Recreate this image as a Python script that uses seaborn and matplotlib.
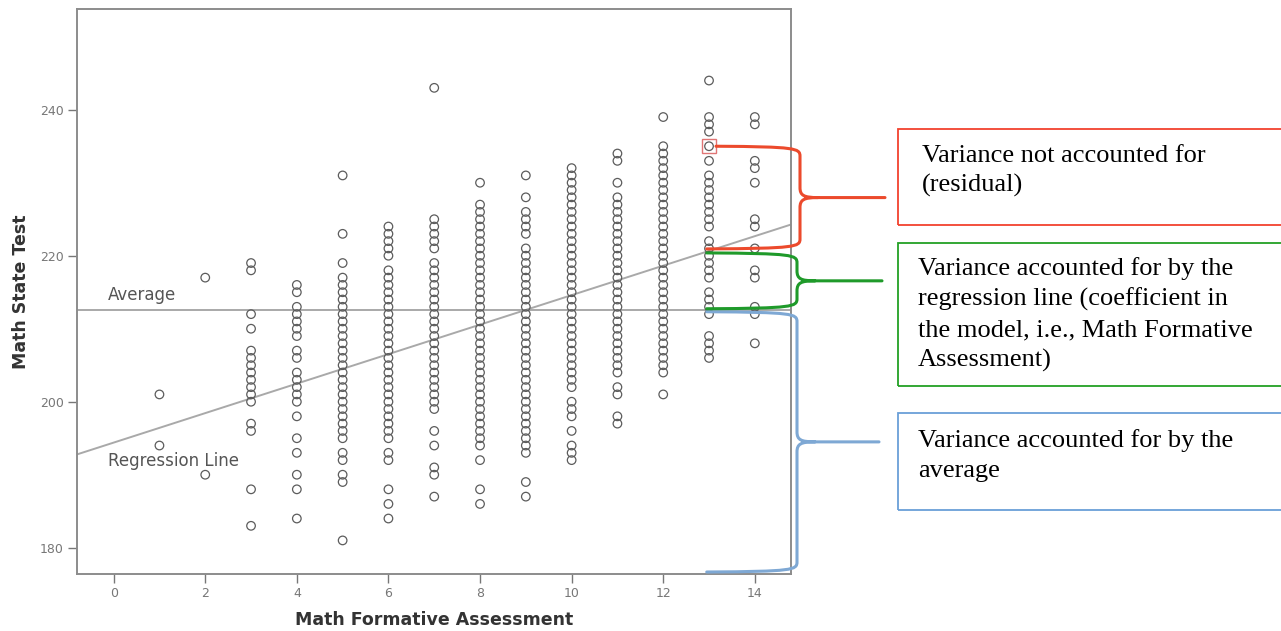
import numpy as np
import pandas as pd
import matplotlib
matplotlib.use("Agg")
import matplotlib.pyplot as plt
import seaborn as sns
from matplotlib.path import Path
from matplotlib.patches import PathPatch, Rectangle
from matplotlib.transforms import IdentityTransform

# ---------------- data ----------------
x_levels = [1, 2, 3, 4, 5, 6, 7, 8, 9, 10, 11, 12, 13, 14]
col_1 = [201, 194]
col_2 = [217, 190]
col_3 = [219, 218, 212, 210, 207, 206, 205, 204, 203, 202, 201, 200, 197, 196, 188, 183]
col_4 = [216, 215, 213, 212, 211, 210, 209, 207, 206, 204, 203, 202, 201, 200, 198,
         195, 193, 190, 188, 184]
col_5 = [231, 223, 219, 217, 216, 215, 214, 213, 212, 211, 210, 209, 208, 207, 206,
         205, 204, 203, 202, 201, 200, 199, 198, 197, 196, 195, 193, 192, 190, 189, 181]
col_6 = [224, 223, 222, 221, 220, 218, 217, 216, 215, 214, 213, 212, 211, 210, 209,
         208, 207, 206, 205, 204, 203, 202, 201, 200, 199, 198, 197, 196, 195, 193,
         192, 188, 186, 184]
col_7 = [243, 225, 224, 223, 222, 221, 219, 218, 217, 216, 215, 214, 213, 212, 211,
         210, 209, 208, 207, 206, 205, 204, 203, 202, 201, 200, 199, 196, 194, 191,
         190, 187]
col_8 = [230, 227, 226, 225, 224, 223, 222, 221, 220, 219, 218, 217, 216, 215, 214,
         213, 212, 211, 210, 209, 208, 207, 206, 205, 204, 203, 202, 201, 200, 199,
         198, 197, 196, 195, 194, 192, 188, 186]
col_9 = [231, 228, 226, 225, 224, 223, 221, 220, 219, 218, 217, 216, 215, 214, 213,
         212, 211, 210, 209, 208, 207, 206, 205, 204, 203, 202, 201, 200, 199, 198,
         197, 196, 195, 194, 193, 189, 187]
col_10 = [232, 231, 230, 229, 228, 227, 226, 225, 224, 223, 222, 221, 220, 219, 218,
          217, 216, 215, 214, 213, 212, 211, 210, 209, 208, 207, 206, 205, 204, 203,
          202, 200, 199, 198, 196, 194, 193, 192]
col_11 = [234, 233, 230, 228, 227, 226, 225, 224, 223, 222, 221, 220, 219, 218, 217,
          216, 215, 214, 213, 212, 211, 210, 209, 208, 207, 206, 205, 204, 202, 201,
          198, 197]
col_12 = [239, 235, 234, 233, 232, 231, 230, 229, 228, 227, 226, 225, 224, 223, 222,
          221, 220, 219, 218, 217, 216, 215, 214, 213, 212, 211, 210, 209, 208, 207,
          206, 205, 204, 201]
col_13 = [244, 239, 238, 237, 235, 233, 231, 230, 229, 228, 227, 226, 225, 224, 222,
          221, 220, 219, 218, 217, 215, 214, 213, 212, 209, 208, 207, 206]
col_14 = [239, 238, 233, 232, 230, 225, 224, 221, 218, 217, 213, 212, 208]
columns = [col_1, col_2, col_3, col_4, col_5, col_6, col_7, col_8, col_9, col_10,
           col_11, col_12, col_13, col_14]

average_value = 212.6
reg_intercept = 194.4
reg_slope = 2.02
highlight_point = (13, 235)

x_ticks = [0, 2, 4, 6, 8, 10, 12, 14]
y_ticks = [180, 200, 220, 240]
x_label = "Math Formative Assessment"
y_label = "Math State Test"
avg_label = "Average"
reg_label = "Regression Line"
box_texts = [
    ["Variance not accounted for", "(residual)"],
    ["Variance accounted for by the", "regression line (coefficient in",
     "the model, i.e., Math Formative", "Assessment)"],
    ["Variance accounted for by the", "average"],
]

# ---------------- figure ----------------
W, H = 1281, 631
sns.set_style("white")
fig = plt.figure(figsize=(W / 100, H / 100), dpi=100)
ax = fig.add_axes([77 / W, 1 - 574 / H, (791 - 77) / W, (574 - 9) / H])

df = pd.DataFrame({
    "x": np.concatenate([[xv] * len(c) for xv, c in zip(x_levels, columns)]),
    "y": np.concatenate(columns),
})

ax.set_xlim(-0.8, 14.79)
ax.set_ylim(176.4, 253.8)

# average & regression lines
ax.axhline(average_value, color="#a9a9a9", lw=1.4, zorder=1)
ax.axline((0, reg_intercept), slope=reg_slope, color="#a9a9a9", lw=1.4, zorder=1)

sns.scatterplot(data=df, x="x", y="y", ax=ax, marker="o", s=38,
                facecolors="none", edgecolor="#5c5c5c", linewidth=0.9, zorder=3,
                legend=False)

ax.set_xticks(x_ticks)
ax.set_yticks(y_ticks)
ax.tick_params(axis="both", direction="out", length=6.5, width=1.0, color="#777777",
               labelsize=9, labelcolor="#777777", pad=3, left=True, bottom=True)
for sp in ax.spines.values():
    sp.set_color("#8c8c8c")
    sp.set_linewidth(1.4)
ax.set_xlabel(x_label, fontsize=12.5, fontweight="bold", color="#333333", labelpad=8)
ax.set_ylabel(y_label, fontsize=12.5, fontweight="bold", color="#333333", labelpad=7)

ax.text(-0.12, 213.9, avg_label, fontsize=12, color="#555555", va="baseline")
ax.text(-0.12, 191.2, reg_label, fontsize=12, color="#555555", va="baseline")

# highlight square around one point
hp = ax.transData.transform(highlight_point)
fig.add_artist(Rectangle((hp[0] - 7, hp[1] - 7), 14, 14, transform=IdentityTransform(),
                         fill=False, edgecolor="#e07575", lw=1.0, zorder=5))

# ---------------- braces ----------------
def reg(xv):
    return reg_intercept + reg_slope * xv

right_px = ax.transAxes.transform((1, 0))[0]


def brace(x_top, y_top, x_bot, y_bot, xv, xt, color):
    r = min(10.0, (y_top - y_bot) / 5)
    ym = (y_top + y_bot) / 2
    verts = [
        (x_top, y_top), (xv - 4, y_top - 0.5), (xv, y_top - 2), (xv, y_top - r),
        (xv, ym + r),
        (xv, ym + 2), (xv + 4, ym), (xv + 18, ym),
        (xt, ym),
        (xv + 18, ym), (xv + 4, ym), (xv, ym - 2), (xv, ym - r),
        (xv, y_bot + r),
        (xv, y_bot + 2), (xv - 4, y_bot + 0.5), (x_bot, y_bot),
    ]
    codes = [Path.MOVETO, Path.CURVE4, Path.CURVE4, Path.CURVE4,
             Path.LINETO,
             Path.CURVE4, Path.CURVE4, Path.CURVE4,
             Path.LINETO,
             Path.MOVETO, Path.CURVE4, Path.CURVE4, Path.CURVE4,
             Path.LINETO,
             Path.CURVE4, Path.CURVE4, Path.CURVE4]
    fig.add_artist(PathPatch(Path(verts, codes), transform=IdentityTransform(),
                             fill=False, edgecolor=color, lw=2.2, zorder=6,
                             capstyle="round", joinstyle="round"))


x13 = ax.transData.transform((12.95, 0))[0]
y_reg13 = ax.transData.transform((13, reg(13)))[1]
y_avg = ax.transData.transform((13, average_value))[1]
y_bot = ax.transAxes.transform((0, 0))[1] + 2

brace(x13, y_avg - 2, x13, y_bot, right_px + 6, right_px + 88, "#7ea8d4")
brace(x13, y_reg13 - 2, x13, y_avg + 1, right_px + 6, right_px + 91, "#1f9a2a")
brace(hp[0] + 7, hp[1], x13, y_reg13 + 2, right_px + 9, right_px + 94, "#ec4a2c")

# ---------------- text boxes ----------------
boxes = [
    (898, 129, 225, "#f2422e", 922, [161.5, 191.5]),
    (898, 243, 386, "#23a024", 918, [275, 306, 336.5, 367]),
    (898, 413, 510, "#6a9fd8", 918, [446.5, 477]),
]
for (bx, btop, bbot, col, tx, baselines), lines in zip(boxes, box_texts):
    fig.add_artist(Rectangle((bx, H - bbot), W + 5 - bx, bbot - btop,
                             transform=IdentityTransform(), fill=False,
                             edgecolor=col, lw=1.3, zorder=6))
    for line, bl in zip(lines, baselines):
        fig.text(tx / W, 1 - bl / H, line, fontsize=19, family="Liberation Serif",
                 color="black", va="baseline", ha="left")

fig.savefig("out.png", dpi=100)
